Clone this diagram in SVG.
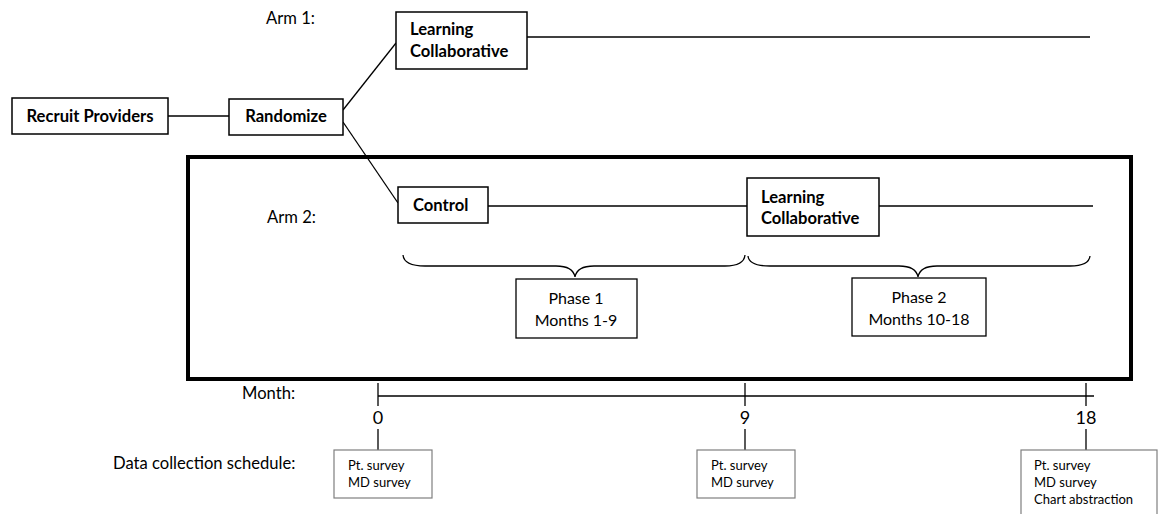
<svg xmlns="http://www.w3.org/2000/svg" width="1158" height="514" viewBox="0 0 1158 514">
<style>
  text { font-family: Lato, "Open Sans", "Liberation Sans", sans-serif; fill: #000; }
  .node { fill: #fff; stroke: #000; stroke-width: 1.5; }
  .bold { font-weight: bold; font-size: 16.6px; }
  .lbl { font-size: 16.6px; }
  .phase { fill: #fff; stroke: #000; stroke-width: 1.3; }
  .ptxt { font-size: 16px; text-anchor: middle; }
  .data { fill: #fff; stroke: #7f7f7f; stroke-width: 1.2; }
  .dtxt { font-size: 13px; }
  .num { font-size: 18px; text-anchor: middle; }
  .ln { stroke: #000; stroke-width: 1.3; fill: none; }
</style>

<g id="frame">
  <rect x="188" y="157" width="943" height="222" fill="none" stroke="#000" stroke-width="4"/>
</g>

<g id="connectors">
  <line class="ln" x1="168" y1="116" x2="229" y2="116"/>
  <line class="ln" x1="343" y1="110" x2="396" y2="43"/>
  <line class="ln" x1="343" y1="122" x2="398" y2="203"/>
  <line class="ln" x1="527" y1="37" x2="1090" y2="37"/>
  <line class="ln" x1="488" y1="206" x2="747" y2="206"/>
  <line class="ln" x1="879" y1="206" x2="1093" y2="206"/>
  <path class="ln" d="M403,255 Q404,266 425,266 L556,266 Q573,266 575,277 Q577,266 594,266 L725,266 Q744,266 745,255"/>
  <path class="ln" d="M748,256 Q749,266 770,266 L899,266 Q916,266 918,277 Q920,266 937,266 L1070,266 Q1089,266 1090,256"/>
  <line class="ln" x1="378" y1="396" x2="1094" y2="396"/>
  <line class="ln" x1="378" y1="383" x2="378" y2="406"/>
  <line class="ln" x1="745" y1="383" x2="745" y2="406"/>
  <line class="ln" x1="1086" y1="383" x2="1086" y2="406"/>
  <line class="ln" x1="378" y1="429" x2="378" y2="450"/>
  <line class="ln" x1="745" y1="429" x2="745" y2="450"/>
  <line class="ln" x1="1086" y1="429" x2="1086" y2="450"/>
</g>

<g id="labels">
  <text class="lbl" x="266" y="24">Arm 1:</text>
  <text class="lbl" x="267" y="223">Arm 2:</text>
  <text class="lbl" x="242" y="399">Month:</text>
  <text class="lbl" x="113" y="469">Data collection schedule:</text>
  <text class="num" x="378" y="424">0</text>
  <text class="num" x="745" y="424">9</text>
  <text class="num" x="1086" y="424">18</text>
</g>

<g id="recruit">
  <rect class="node" x="12" y="98" width="156" height="36"/>
  <text class="bold" x="90" y="122" text-anchor="middle">Recruit Providers</text>
</g>

<g id="randomize">
  <rect class="node" x="229" y="99" width="114" height="36"/>
  <text class="bold" x="286" y="122" text-anchor="middle">Randomize</text>
</g>

<g id="lc-arm1">
  <rect class="node" x="396" y="12" width="131" height="57"/>
  <text class="bold" x="410" y="35">Learning</text>
  <text class="bold" x="410" y="57">Collaborative</text>
</g>

<g id="control">
  <rect class="node" x="398" y="187" width="90" height="36"/>
  <text class="bold" x="413" y="211">Control</text>
</g>

<g id="lc-arm2">
  <rect class="node" x="747" y="178" width="132" height="58"/>
  <text class="bold" x="761" y="203">Learning</text>
  <text class="bold" x="761" y="224">Collaborative</text>
</g>

<g id="phase1">
  <rect class="phase" x="516" y="279" width="121" height="59"/>
  <text class="ptxt" x="576" y="304">Phase 1</text>
  <text class="ptxt" x="576" y="326">Months 1-9</text>
</g>

<g id="phase2">
  <rect class="phase" x="852" y="278" width="134" height="58"/>
  <text class="ptxt" x="919" y="303">Phase 2</text>
  <text class="ptxt" x="919" y="325">Months 10-18</text>
</g>

<g id="data0">
  <rect class="data" x="334" y="450" width="98" height="48"/>
  <text class="dtxt" x="348" y="470">Pt. survey</text>
  <text class="dtxt" x="348" y="487">MD survey</text>
</g>

<g id="data9">
  <rect class="data" x="697" y="450" width="98" height="48"/>
  <text class="dtxt" x="711" y="470">Pt. survey</text>
  <text class="dtxt" x="711" y="487">MD survey</text>
</g>

<g id="data18">
  <rect class="data" x="1021" y="450" width="136" height="70"/>
  <text class="dtxt" x="1034" y="470">Pt. survey</text>
  <text class="dtxt" x="1034" y="487">MD survey</text>
  <text class="dtxt" x="1034" y="504">Chart abstraction</text>
</g>
</svg>
